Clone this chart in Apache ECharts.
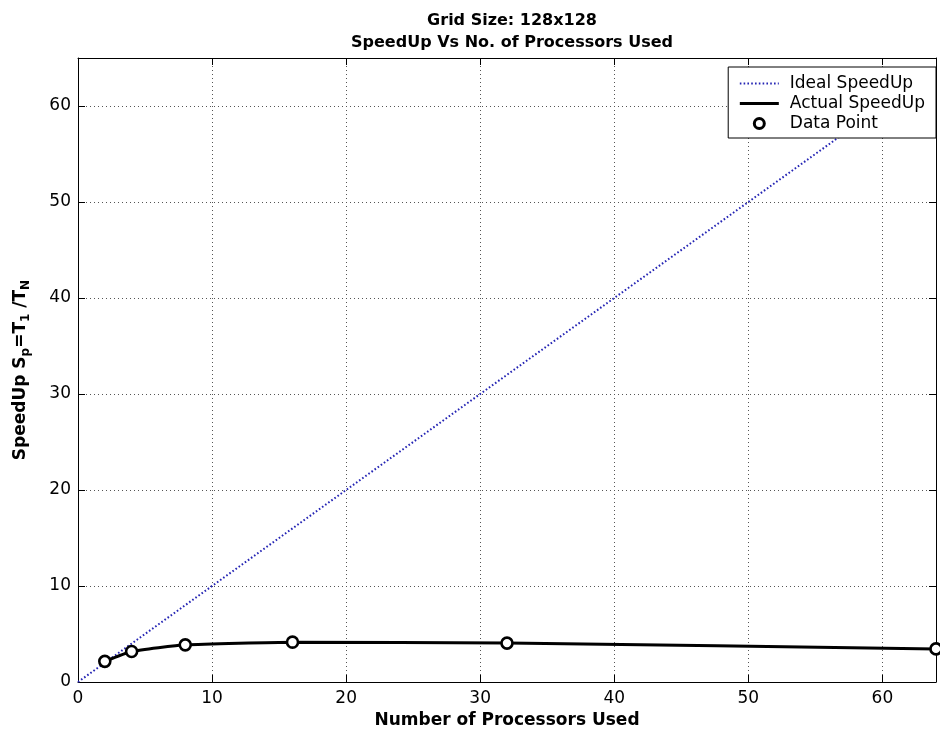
<!DOCTYPE html>
<html>
<head>
<meta charset="utf-8">
<script src="https://cdn.jsdelivr.net/npm/echarts@6/dist/echarts.min.js"></script>
<style>
html,body{margin:0;padding:0;background:#fff;}
#chart{width:940px;height:734px;}
</style>
</head>
<body>
<div id="chart"></div>
<script>
// Data
const processors = [2, 4, 8, 16, 32, 64];
const actualSpeedup = [2.15, 3.18, 3.87, 4.15, 4.05, 3.45];
const idealX = [0, 64];
const idealY = [0, 64];
const titleLines = ['Grid Size: 128x128', 'SpeedUp Vs No. of Processors Used'];
const seriesNames = ['Ideal SpeedUp', 'Actual SpeedUp', 'Data Point'];

const FONT = 'DejaVu Sans';
const chart = echarts.init(document.getElementById('chart'));

const gridLine = { show: true, lineStyle: { color: '#555', type: [1, 3], width: 1 } };

const option = {
  backgroundColor: '#fff',
  animation: false,
  title: {
    text: titleLines.join('\n'),
    left: 507,
    top: 5,
    textAlign: 'center',
    textStyle: { fontFamily: FONT, fontSize: 16, fontWeight: 'bold', color: '#000', lineHeight: 22 }
  },
  grid: { left: 78, right: 4, top: 58, bottom: 50, containLabel: false },
  legend: {
    orient: 'vertical',
    right: 4,
    top: 67,
    padding: [8, 11, 6, 10],
    backgroundColor: '#fff',
    borderColor: '#000',
    borderWidth: 1,
    borderRadius: 0,
    itemWidth: 39,
    itemHeight: 10,
    itemGap: 3,
    textStyle: { fontFamily: FONT, fontSize: 17, color: '#000', lineHeight: 17, padding: [0, 0, 0, 6] },
    data: [
      { name: seriesNames[0], itemStyle: { opacity: 0 } },
      { name: seriesNames[1], itemStyle: { opacity: 0 }, lineStyle: { width: 3.2 } },
      { name: seriesNames[2], icon: 'circle', itemStyle: { borderWidth: 3 } }
    ]
  },
  xAxis: [
    {
      type: 'value', min: 0, max: 64, interval: 10,
      name: 'Number of Processors Used',
      nameLocation: 'middle', nameGap: 30,
      nameTextStyle: { fontFamily: FONT, fontSize: 17, fontWeight: 'bold', color: '#000' },
      axisLine: { show: true, onZero: false, lineStyle: { color: '#000', width: 1 } },
      axisTick: { show: true, inside: true, length: 7, lineStyle: { color: '#000' } },
      axisLabel: { fontFamily: FONT, fontSize: 17, color: '#000', margin: 8, showMaxLabel: false },
      splitLine: gridLine
    },
    {
      type: 'value', min: 0, max: 64, interval: 10, position: 'top',
      axisLine: { show: true, onZero: false, lineStyle: { color: '#000', width: 1 } },
      axisTick: { show: true, inside: true, length: 7, lineStyle: { color: '#000' } },
      axisLabel: { show: false },
      splitLine: { show: false }
    }
  ],
  yAxis: [
    {
      type: 'value', min: 0, max: 65, interval: 10,
      name: '{n|SpeedUp S}{s|p}{n|=T}{s|1}{n| /T}{s|N}',
      nameLocation: 'middle', nameRotate: 90, nameGap: 47,
      nameTextStyle: {
        rich: {
          n: { fontFamily: FONT, fontSize: 17, fontWeight: 'bold', color: '#000', lineHeight: 20 },
          s: { fontFamily: FONT, fontSize: 12, fontWeight: 'bold', color: '#000', lineHeight: 12, padding: [10, 0, 0, 0] }
        }
      },
      axisLine: { show: true, onZero: false, lineStyle: { color: '#000', width: 1 } },
      axisTick: { show: true, inside: true, length: 7, lineStyle: { color: '#000' } },
      axisLabel: { fontFamily: FONT, fontSize: 17, color: '#000', margin: 7, showMaxLabel: false },
      splitLine: gridLine
    },
    {
      type: 'value', min: 0, max: 65, interval: 10, position: 'right',
      axisLine: { show: true, onZero: false, lineStyle: { color: '#000', width: 1 } },
      axisTick: { show: true, inside: true, length: 7, lineStyle: { color: '#000' } },
      axisLabel: { show: false },
      splitLine: { show: false }
    }
  ],
  series: [
    {
      name: seriesNames[0],
      type: 'line',
      data: idealX.map((x, i) => [x, idealY[i]]),
      symbol: 'none',
      lineStyle: { color: '#2424b4', width: 2, type: [1.6, 2.2] },
      itemStyle: { color: '#2424b4' },
      z: 2
    },
    {
      name: seriesNames[1],
      type: 'line',
      data: processors.map((x, i) => [x, actualSpeedup[i]]),
      symbol: 'none',
      smooth: 0.15,
      lineStyle: { color: '#000', width: 3 },
      itemStyle: { color: '#000' },
      z: 3
    },
    {
      name: seriesNames[2],
      type: 'scatter',
      data: processors.map((x, i) => [x, actualSpeedup[i]]),
      symbol: 'circle',
      symbolSize: 11,
      itemStyle: { color: '#fff', borderColor: '#000', borderWidth: 2.6, opacity: 1 },
      z: 4
    }
  ]
};
chart.setOption(option);
</script>
</body>
</html>
